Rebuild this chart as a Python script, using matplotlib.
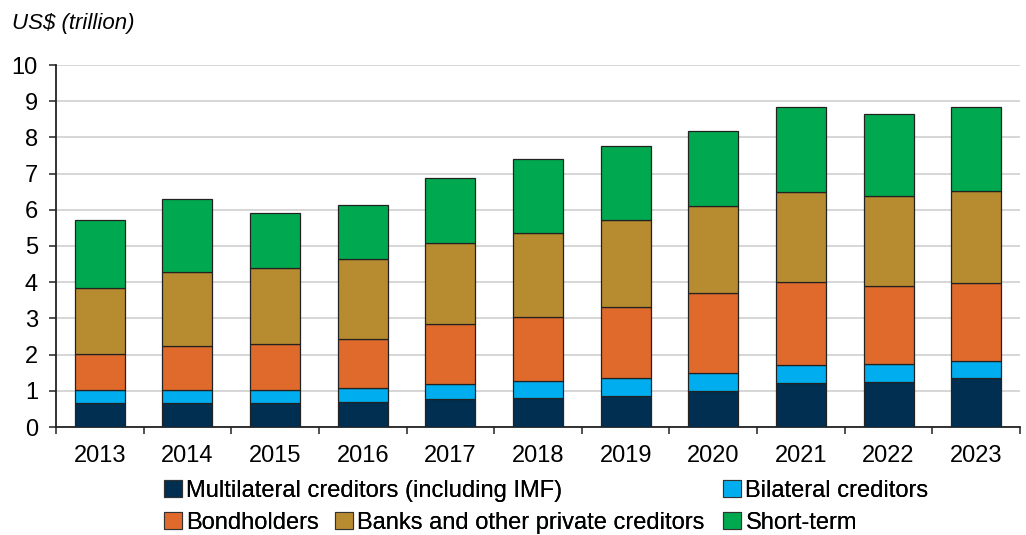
import matplotlib
matplotlib.use("Agg")
import matplotlib.pyplot as plt
from matplotlib.patches import Patch
import numpy as np

years = ["2013", "2014", "2015", "2016", "2017", "2018", "2019", "2020", "2021", "2022", "2023"]
multilateral = [0.65, 0.65, 0.66, 0.69, 0.76, 0.81, 0.86, 1.00, 1.21, 1.25, 1.34]
bilateral = [0.36, 0.36, 0.37, 0.40, 0.44, 0.46, 0.48, 0.50, 0.50, 0.49, 0.49]
bondholders = [1.02, 1.22, 1.25, 1.35, 1.64, 1.76, 1.97, 2.20, 2.29, 2.16, 2.14]
banks = [1.82, 2.04, 2.10, 2.20, 2.24, 2.33, 2.40, 2.41, 2.48, 2.48, 2.54]
short_term = [1.86, 2.03, 1.52, 1.49, 1.81, 2.03, 2.04, 2.07, 2.35, 2.27, 2.33]

series_names = ["Multilateral creditors (including IMF)", "Bilateral creditors",
                "Bondholders", "Banks and other private creditors", "Short-term"]
colors = ["#002F52", "#00AEEF", "#E06A2C", "#B78B2F", "#00A94F"]
yticks = list(range(0, 11))

plt.rcParams['font.family'] = ['Liberation Sans', 'DejaVu Sans']

fig = plt.figure(figsize=(10.26, 5.35), dpi=100)
ax = fig.add_axes([56/1026, 1-427/535, (1020-56)/1026, (427-65)/535])

x = np.arange(len(years))
bottom = np.zeros(len(years))
handles = []
for vals, c, name in zip([multilateral, bilateral, bondholders, banks, short_term], colors, series_names):
    ax.bar(x, vals, bottom=bottom, width=0.57, color=c, edgecolor="#222222", linewidth=0.9, zorder=3)
    bottom += np.array(vals)
    handles.append(Patch(facecolor=c, edgecolor="#333333", linewidth=0.8, label=name))

ax.set_xlim(-0.5, len(years) - 0.5)
ax.set_ylim(0, 10)
ax.set_yticks(yticks)
ax.set_yticklabels([str(t) for t in yticks], fontsize=17)
ax.yaxis.grid(True, color="#d0d0d0", linewidth=1.2, zorder=0)
ax.set_axisbelow(True)

ax.set_xticks(x)
ax.set_xticklabels(years, fontsize=17)
ax.tick_params(axis='x', which='major', length=0, pad=13)
ax.set_xticks(np.arange(-0.5, len(years)), minor=True)
ax.tick_params(axis='x', which='minor', length=5, width=1.2, color="#333333", direction='out')
ax.tick_params(axis='y', length=5, width=1.2, color="#333333", pad=8)

for s in ["top", "right"]:
    ax.spines[s].set_visible(False)
for s in ["left", "bottom"]:
    ax.spines[s].set_linewidth(1.3)
    ax.spines[s].set_color("#222222")

fig.text(12/1026, 1-24/535, "US$ (trillion)", fontsize=16, style='italic', va='center', ha='left')

positions = [(164, 491), (723, 491), (164, 523), (335, 523), (723, 523)]
for h, (px, py) in zip(handles, positions):
    leg = fig.legend(handles=[h], loc='center left', bbox_to_anchor=(px/1026, 1-py/535),
                     frameon=False, borderpad=0, borderaxespad=0, fontsize=17,
                     handlelength=0.75, handleheight=0.75, handletextpad=0.2)
    fig.add_artist(leg)

fig.savefig("out.png", dpi=100)
